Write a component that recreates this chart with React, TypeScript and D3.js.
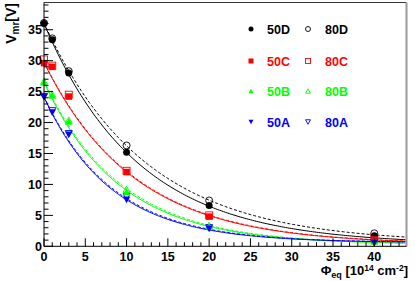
import React from "react";
import * as d3 from "d3";

const fluence = [0, 1, 3, 10, 20, 40];
const seriesNames = ["50D", "80D", "50C", "80C", "50B", "80B", "50A", "80A"];
const v50D = [36.0, 33.4, 28.0, 15.2, 6.6, 1.7];
const v80D = [36.1, 33.6, 28.3, 16.3, 7.4, 2.1];
const v50C = [29.6, 29.0, 24.2, 12.0, 4.8, 1.1];
const v80C = [30.2, 29.2, 24.5, 12.2, 5.0, 1.4];
const v50B = [26.5, 24.4, 20.2, 8.8, 3.2, 0.8];
const v80B = [26.7, 24.6, 20.4, 9.2, 3.4, 1.0];
const v50A = [24.1, 21.6, 18.0, 7.5, 2.8, 0.5];
const v80A = [24.2, 21.9, 18.2, 8.0, 3.0, 0.6];
const seriesValues = [v50D, v80D, v50C, v80C, v50B, v80B, v50A, v80A];
// exponential fit parameters V = A*exp(-phi/tau) + C
const fitA = [35.7, 35.6, 29.4, 29.5, 26.2, 26.4, 23.5, 23.6];
const fitTau = [11.4, 12.25, 10.85, 10.95, 9.1, 9.3, 8.17, 8.35];
const fitC = [0.3, 0.5, 0.3, 0.3, 0.3, 0.3, 0.6, 0.6];
const xTicks = [0, 5, 10, 15, 20, 25, 30, 35, 40];
const yTicks = [0, 5, 10, 15, 20, 25, 30, 35];

const colors = ["#000000", "#000000", "#ff0000", "#ff0000", "#00ff00", "#00ff00", "#0000ff", "#0000ff"];
const shapes = ["circle", "circle", "square", "square", "up", "up", "down", "down"];

const W = 415, H = 281;
const L = 44, R = 406.5, T = 2.5, B = 246.3;
const font = "'Liberation Sans', Arial, Helvetica, sans-serif";

function Marker({ shape, x, y, s, filled, color }: any) {
  const fill = filled ? color : "none";
  const sw = filled ? 0 : 0.9;
  if (shape === "circle") return <circle cx={x} cy={y} r={s * 0.5} fill={fill} stroke={color} strokeWidth={sw} />;
  if (shape === "square") return <rect x={x - s / 2} y={y - s / 2} width={s} height={s} fill={fill} stroke={color} strokeWidth={sw} />;
  const h = s * 0.9;
  const pts = shape === "up"
    ? [[x - s / 2, y + h / 2], [x + s / 2, y + h / 2], [x, y - h / 2]]
    : [[x - s / 2, y - h / 2], [x + s / 2, y - h / 2], [x, y + h / 2]];
  return <polygon points={pts.map(p => p.join(",")).join(" ")} fill={fill} stroke={color} strokeWidth={sw} />;
}

export default function App() {
  const x = d3.scaleLinear().domain([0, 43.9]).range([L, R]);
  const y = d3.scaleLinear().domain([0, 39.4]).range([B, T]);
  const xs = d3.range(0, 43.9 + 0.001, 0.25);

  const curves = seriesNames.map((_, k) => {
    const gen = d3.line<number>().x(d => x(d)).y(d => y(fitA[k] * Math.exp(-d / fitTau[k]) + fitC[k]));
    return gen(xs) || "";
  });

  const xMinor = d3.range(0, 44, 1);
  const yMinor = d3.range(0, 39.5, 1);
  const legendRows = [29, 61, 91, 122];

  return (
    <div style={{ position: "fixed", left: 0, top: 0 }}>
      <svg width={W} height={H} style={{ display: "block", background: "#fff" }}>
        <defs>
          <clipPath id="plot"><rect x={L} y={T} width={R - L} height={B - T} /></clipPath>
        </defs>
        <line x1={L} x2={R} y1={T} y2={T} stroke="#333" strokeWidth={1} />
        <line x1={R} x2={R} y1={T} y2={B} stroke="#999" strokeWidth={2} />
        <g clipPath="url(#plot)">
          {curves.map((d, k) => (
            <path key={k} d={d} fill="none" stroke={colors[k]} strokeWidth={1}
              strokeDasharray={k % 2 === 1 ? "3,2" : undefined} />
          ))}
        </g>
        {seriesNames.map((_, k) => k % 2 === 1 ? (
          <g key={"o" + k}>
            {fluence.map((f, i) => (
              <Marker key={i} shape={shapes[k]} x={x(f)} y={y(seriesValues[k][i])} s={7} filled={false} color={colors[k]} />
            ))}
          </g>
        ) : null)}
        {seriesNames.map((_, k) => k % 2 === 0 ? (
          <g key={"f" + k}>
            {fluence.map((f, i) => (
              <Marker key={i} shape={shapes[k]} x={x(f)} y={y(seriesValues[k][i])} s={shapes[k] === "circle" ? 7 : shapes[k] === "square" ? 6.5 : 7.5} filled={true} color={colors[k]} />
            ))}
          </g>
        ) : null)}
        <line x1={L} x2={R} y1={B} y2={B} stroke="#000" strokeWidth={1} />
        <line x1={L} x2={L} y1={T} y2={B} stroke="#000" strokeWidth={1} />
        {xMinor.map(t => (
          <line key={"xm" + t} x1={x(t)} x2={x(t)} y1={B} y2={B - (t % 5 === 0 ? 8 : 4)} stroke="#000" strokeWidth={1} />
        ))}
        {yMinor.map(t => (
          <line key={"ym" + t} x1={L} x2={L + (t % 5 === 0 ? 9 : 4.5)} y1={y(t)} y2={y(t)} stroke="#000" strokeWidth={1} />
        ))}
        {xTicks.map(t => (
          <text key={"xt" + t} x={x(t)} y={260.5} textAnchor="middle" fontFamily={font} fontWeight="bold" fontSize={12.5} fill="#000">{t}</text>
        ))}
        {yTicks.map(t => (
          <text key={"yt" + t} x={42} y={y(t) + 4.5} textAnchor="end" fontFamily={font} fontWeight="bold" fontSize={12.5} fill="#000">{t}</text>
        ))}
        <text x={408} y={275} textAnchor="end" fontFamily={font} fontWeight="bold" fontSize={13} fill="#000">
          Φ<tspan fontSize={9} dy={3}>eq</tspan><tspan dy={-3}> [10</tspan><tspan fontSize={8.5} dy={-4}>14</tspan><tspan dy={4}> cm</tspan><tspan fontSize={8.5} dy={-4}>-2</tspan><tspan dy={4}>]</tspan>
        </text>
        <text transform="translate(16,3) rotate(-90)" textAnchor="end" fontFamily={font} fontWeight="bold" fontSize={14} fill="#000">
          V<tspan fontSize={10} dy={3}>mr</tspan><tspan dy={-3}>[V]</tspan>
        </text>
        {legendRows.map((ly, r) => (
          <g key={"lg" + r}>
            <Marker shape={shapes[2 * r]} x={251} y={ly} s={5} filled={true} color={colors[2 * r]} />
            <text x={267} y={ly + 4.5} fontFamily={font} fontWeight="bold" fontSize={12.5} fill={colors[2 * r]}>{seriesNames[2 * r]}</text>
            <Marker shape={shapes[2 * r + 1]} x={308} y={ly} s={5} filled={false} color={colors[2 * r + 1]} />
            <text x={325} y={ly + 4.5} fontFamily={font} fontWeight="bold" fontSize={12.5} fill={colors[2 * r + 1]}>{seriesNames[2 * r + 1]}</text>
          </g>
        ))}
      </svg>
    </div>
  );
}
